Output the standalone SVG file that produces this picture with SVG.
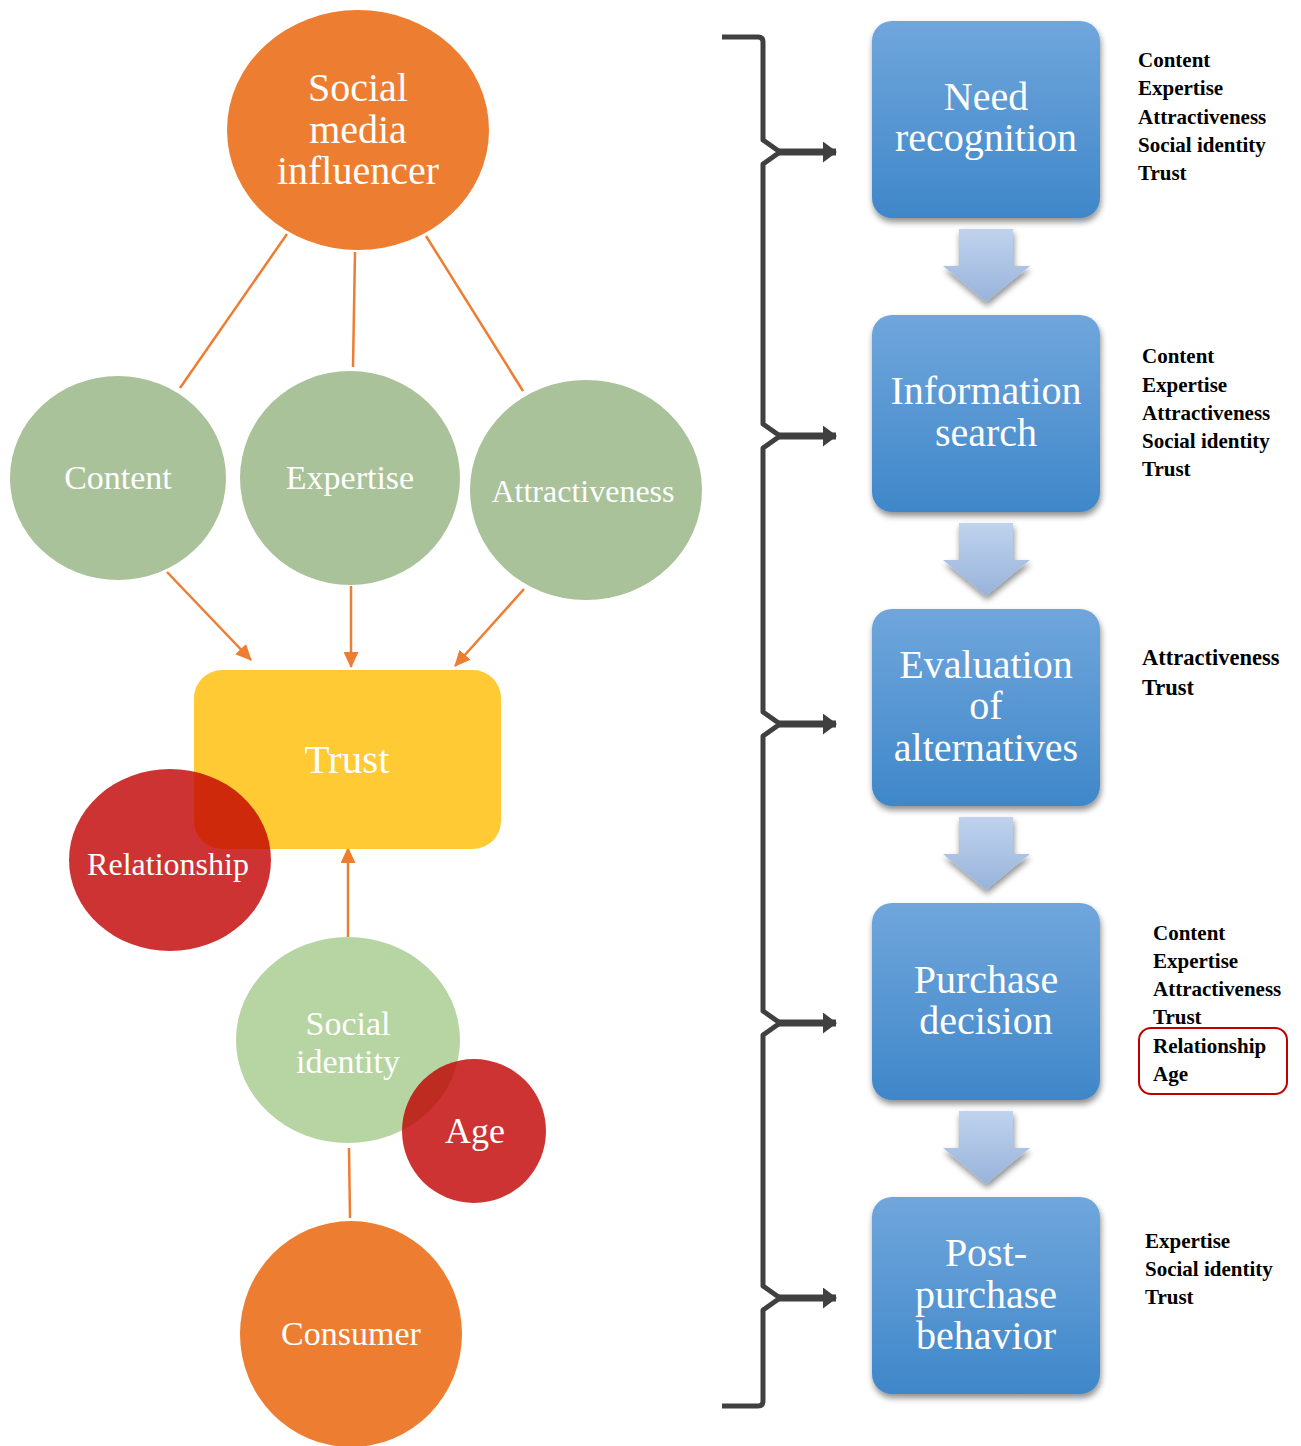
<svg xmlns="http://www.w3.org/2000/svg" width="1301" height="1446" viewBox="0 0 1301 1446">
<defs>
<linearGradient id="blue" x1="0" y1="0" x2="0" y2="1"><stop offset="0" stop-color="#70A6DC"/><stop offset="1" stop-color="#3F87C9"/></linearGradient>
<linearGradient id="pale" x1="0" y1="0" x2="0" y2="1"><stop offset="0" stop-color="#BFD3EE"/><stop offset="1" stop-color="#98B3DA"/></linearGradient>
<filter id="sh" x="-10%" y="-10%" width="125%" height="130%"><feGaussianBlur in="SourceAlpha" stdDeviation="3"/><feOffset dx="1" dy="4"/><feComponentTransfer><feFuncA type="linear" slope="0.45"/></feComponentTransfer><feMerge><feMergeNode/><feMergeNode in="SourceGraphic"/></feMerge></filter>
<marker id="oa" markerWidth="16" markerHeight="15" refX="15" refY="7.5" orient="auto" markerUnits="userSpaceOnUse" viewBox="0 0 16 15"><path d="M0,0 L16,7.5 L0,15 z" fill="#ED7D31"/></marker>
<marker id="ga" markerWidth="14" markerHeight="21" refX="13" refY="10.5" orient="auto" markerUnits="userSpaceOnUse" viewBox="0 0 14 21"><path d="M0,0 L14,10.5 L0,21 z" fill="#404040"/></marker>
</defs>
<style>
.w{font-family:"Liberation Serif","Times New Roman",serif;fill:#fff;text-anchor:middle}
.b{font-family:"Liberation Serif","Times New Roman",serif;font-weight:bold;font-size:21px;fill:#000}
.ol{stroke:#ED7D31;stroke-width:2.5;fill:none}
.br{stroke:#404040;stroke-width:5;fill:none;stroke-linejoin:round}
.ga{stroke:#404040;stroke-width:7}
.box{fill:url(#blue);filter:url(#sh)}
.dn{fill:url(#pale);filter:url(#sh)}
</style>
<rect width="1301" height="1446" fill="#fff"/>

<g id="connectors">
<line class="ol" x1="287" y1="234" x2="180" y2="388"/>
<line class="ol" x1="355" y1="252" x2="353" y2="367"/>
<line class="ol" x1="426" y1="236" x2="523" y2="391"/>
<line class="ol" x1="167" y1="572" x2="251" y2="660" marker-end="url(#oa)"/>
<line class="ol" x1="351" y1="586" x2="351" y2="667" marker-end="url(#oa)"/>
<line class="ol" x1="524" y1="589" x2="455" y2="666" marker-end="url(#oa)"/>
<line class="ol" x1="348" y1="937" x2="348" y2="848" marker-end="url(#oa)"/>
<line class="ol" x1="349" y1="1148" x2="350" y2="1218"/>
<path class="br" d="M722,37 H758 Q763,37 763,42 V140 L780,152 L763,164 V424 L780,436 L763,448 V712 L780,724 L763,736 V1011 L780,1023 L763,1035 V1286 L780,1298 L763,1310 V1401 Q763,1406 758,1406 H722"/>
<line class="ga" x1="778" y1="152" x2="836" y2="152" marker-end="url(#ga)"/>
<line class="ga" x1="778" y1="436" x2="836" y2="436" marker-end="url(#ga)"/>
<line class="ga" x1="778" y1="724" x2="836" y2="724" marker-end="url(#ga)"/>
<line class="ga" x1="778" y1="1023" x2="836" y2="1023" marker-end="url(#ga)"/>
<line class="ga" x1="778" y1="1298" x2="836" y2="1298" marker-end="url(#ga)"/>
<path class="dn" d="M959,229 H1013 V266 H1030 L986,302 L943,266 H959 z"/>
<path class="dn" d="M959,523 H1013 V560 H1030 L986,596 L943,560 H959 z"/>
<path class="dn" d="M959,817 H1013 V854 H1030 L986,890 L943,854 H959 z"/>
<path class="dn" d="M959,1111 H1013 V1148 H1030 L986,1184 L943,1148 H959 z"/>
</g>

<g id="influencer">
<ellipse cx="358" cy="130" rx="131" ry="120" fill="#ED7D31"/>
<text class="w" font-size="40"><tspan x="358" y="101">Social</tspan><tspan x="358" y="143">media</tspan><tspan x="358" y="184">influencer</tspan></text>
</g>
<g id="content">
<ellipse cx="118" cy="478" rx="108" ry="102" fill="#A9C29A"/>
<text class="w" font-size="34" x="118" y="489">Content</text>
</g>
<g id="expertise">
<ellipse cx="350" cy="478" rx="110" ry="107" fill="#A9C29A"/>
<text class="w" font-size="34" x="350" y="489">Expertise</text>
</g>
<g id="attractiveness">
<ellipse cx="586" cy="490" rx="116" ry="110" fill="#A9C29A"/>
<text class="w" font-size="32" x="583" y="502">Attractiveness</text>
</g>
<g id="trust">
<rect x="194" y="670" width="307" height="179" rx="28" fill="#FFCA33"/>
<text class="w" font-size="41" x="347" y="773">Trust</text>
</g>
<g id="relationship">
<ellipse cx="170" cy="860" rx="101" ry="91" fill="#C00000" fill-opacity="0.8"/>
<text class="w" font-size="32" x="168" y="875">Relationship</text>
</g>
<g id="social-identity">
<ellipse cx="348" cy="1040" rx="112" ry="103" fill="#B6D5A3"/>
<text class="w" font-size="34"><tspan x="348" y="1035">Social</tspan><tspan x="348" y="1073">identity</tspan></text>
</g>
<g id="age">
<circle cx="474" cy="1131" r="72" fill="#C00000" fill-opacity="0.8"/>
<text class="w" font-size="36" x="475" y="1143">Age</text>
</g>
<g id="consumer">
<ellipse cx="351" cy="1334" rx="111" ry="113" fill="#ED7D31"/>
<text class="w" font-size="34" x="351" y="1345">Consumer</text>
</g>

<g id="need-recognition">
<rect class="box" x="872" y="21" width="228" height="197" rx="20"/>
<text class="w" font-size="40"><tspan x="986" y="110">Need</tspan><tspan x="986" y="151">recognition</tspan></text>
<text class="b"><tspan x="1138" y="67">Content</tspan><tspan x="1138" y="95">Expertise</tspan><tspan x="1138" y="124">Attractiveness</tspan><tspan x="1138" y="152">Social identity</tspan><tspan x="1138" y="180">Trust</tspan></text>
</g>
<g id="information-search">
<rect class="box" x="872" y="315" width="228" height="197" rx="20"/>
<text class="w" font-size="40"><tspan x="986" y="404">Information</tspan><tspan x="986" y="446">search</tspan></text>
<text class="b"><tspan x="1142" y="363">Content</tspan><tspan x="1142" y="392">Expertise</tspan><tspan x="1142" y="420">Attractiveness</tspan><tspan x="1142" y="448">Social identity</tspan><tspan x="1142" y="476">Trust</tspan></text>
</g>
<g id="evaluation">
<rect class="box" x="872" y="609" width="228" height="197" rx="20"/>
<text class="w" font-size="40"><tspan x="986" y="678">Evaluation</tspan><tspan x="986" y="719">of</tspan><tspan x="986" y="761">alternatives</tspan></text>
<text class="b" font-size="22.5" style="font-size:22.5px"><tspan x="1142" y="665">Attractiveness</tspan><tspan x="1142" y="695">Trust</tspan></text>
</g>
<g id="purchase-decision">
<rect class="box" x="872" y="903" width="228" height="197" rx="20"/>
<text class="w" font-size="40"><tspan x="986" y="993">Purchase</tspan><tspan x="986" y="1034">decision</tspan></text>
<text class="b"><tspan x="1153" y="940">Content</tspan><tspan x="1153" y="968">Expertise</tspan><tspan x="1153" y="996">Attractiveness</tspan><tspan x="1153" y="1024">Trust</tspan><tspan x="1153" y="1053">Relationship</tspan><tspan x="1153" y="1081">Age</tspan></text>
<rect x="1139" y="1028" width="148" height="66" rx="12" fill="none" stroke="#C00000" stroke-width="2"/>
</g>
<g id="post-purchase">
<rect class="box" x="872" y="1197" width="228" height="197" rx="20"/>
<text class="w" font-size="40"><tspan x="986" y="1266">Post-</tspan><tspan x="986" y="1308">purchase</tspan><tspan x="986" y="1349">behavior</tspan></text>
<text class="b"><tspan x="1145" y="1248">Expertise</tspan><tspan x="1145" y="1276">Social identity</tspan><tspan x="1145" y="1304">Trust</tspan></text>
</g>
</svg>
